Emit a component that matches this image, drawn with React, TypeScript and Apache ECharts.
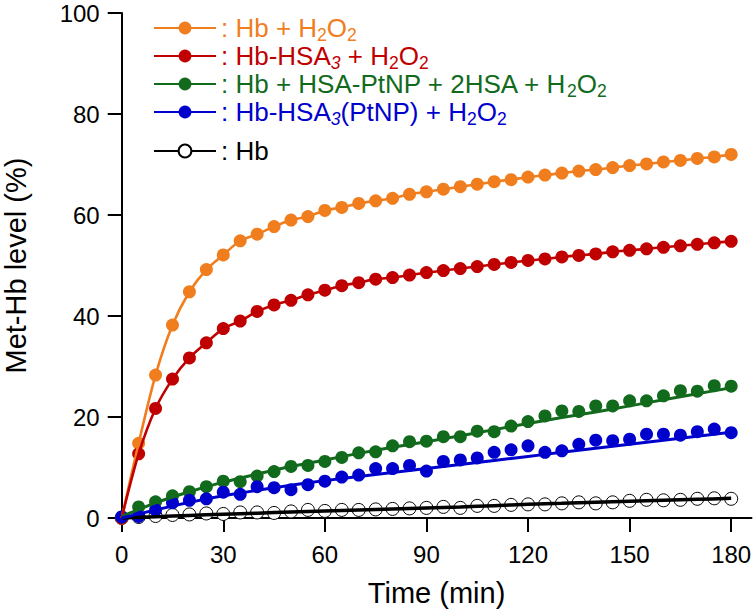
import React, { useEffect, useRef } from "react";
import * as echarts from "echarts";

// ---- data ----
const times = [0, 5, 10, 15, 20, 25, 30, 35, 40, 45, 50, 55, 60, 65, 70, 75, 80, 85, 90, 95, 100, 105, 110, 115, 120, 125, 130, 135, 140, 145, 150, 155, 160, 165, 170, 175, 180];

const hbH2O2 = [0, 14.8, 28.3, 38.2, 44.8, 49.2, 52.1, 54.9, 56.2, 57.7, 59.0, 59.7, 60.9, 61.5, 62.3, 62.8, 63.3, 64.1, 64.6, 65.1, 65.6, 66.1, 66.6, 67.0, 67.5, 67.9, 68.3, 68.7, 69.0, 69.4, 69.8, 70.1, 70.5, 70.8, 71.2, 71.5, 72.0];
const hbHsa3H2O2 = [0, 12.7, 21.7, 27.5, 31.7, 34.7, 37.5, 39.0, 40.9, 42.2, 43.1, 44.2, 45.1, 46.0, 46.6, 47.3, 47.6, 48.1, 48.6, 49.0, 49.4, 49.8, 50.2, 50.6, 51.0, 51.3, 51.7, 52.0, 52.3, 52.7, 53.0, 53.3, 53.6, 53.9, 54.2, 54.5, 54.8];
const hbHsaPtnpH2O2 = [0.2, 2.2, 3.2, 4.4, 5.2, 6.2, 7.3, 7.2, 8.3, 9.2, 10.2, 10.4, 11.2, 12.0, 12.9, 13.1, 14.3, 15.1, 15.2, 16.1, 16.1, 17.2, 17.1, 18.2, 19.1, 20.2, 21.2, 21.1, 22.2, 22.2, 23.2, 23.2, 24.2, 25.2, 25.1, 26.2, 26.1];
const hbHsa3PtnpH2O2 = [0.2, 0.3, 1.6, 3.0, 3.5, 3.8, 5.1, 4.7, 6.2, 6.0, 5.6, 6.6, 7.3, 8.1, 8.5, 9.8, 9.8, 10.4, 9.3, 11.2, 11.5, 11.9, 13.0, 13.5, 14.3, 13.0, 13.3, 14.6, 15.4, 15.3, 15.6, 16.6, 16.6, 16.4, 17.1, 17.6, 16.9];
const hbOnly = [0, 0.2, 0.4, 0.6, 0.7, 0.9, 0.8, 1.1, 1.1, 1.0, 1.3, 1.6, 1.4, 1.6, 1.6, 1.7, 1.8, 1.9, 2.0, 2.2, 2.0, 2.4, 2.4, 2.6, 2.7, 2.7, 2.9, 3.1, 2.9, 3.1, 3.4, 3.6, 3.5, 3.6, 3.8, 3.9, 3.8];

// fitted curves
const fitTimes = [0, 10, 20, 30, 40, 50, 60, 70, 80, 90, 100, 110, 120, 130, 140, 150, 160, 170, 180];
const fitGreen = [0.3, 3.0, 5.2, 7.1, 8.7, 10.2, 11.5, 12.8, 14.0, 15.1, 16.3, 17.5, 18.7, 19.9, 21.0, 22.2, 23.4, 24.6, 25.8];
const fitBlue = [0, 1.6, 3.1, 4.4, 5.5, 6.5, 7.4, 8.2, 9.0, 9.8, 10.6, 11.4, 12.2, 13.0, 13.8, 14.6, 15.4, 16.2, 17.0];
const fitBlack = [0, 0.25, 0.5, 0.75, 0.95, 1.2, 1.4, 1.6, 1.8, 2.0, 2.2, 2.45, 2.7, 2.9, 3.1, 3.3, 3.5, 3.7, 3.9];

const xTicks = [0, 30, 60, 90, 120, 150, 180];
const yTicks = [0, 20, 40, 60, 80, 100];

const seriesNames = ["Hb + H2O2", "Hb-HSA3 + H2O2", "Hb + HSA-PtNP + 2HSA + H2O2", "Hb-HSA3(PtNP) + H2O2", "Hb"];
const legendRich = [
  "{t|: Hb + H}{s|2}{t|O}{s|2}",
  "{t|: Hb-HSA}{si|3}{t| + H}{s|2}{t|O}{s|2}",
  "{t|: Hb + HSA-PtNP + 2HSA + H}{s|2}{t|O}{s|2}",
  "{t|: Hb-HSA}{si|3}{t|(PtNP) + H}{s|2}{t|O}{s|2}",
  "{t|: Hb}",
];
const colors = ["#F07E1E", "#C00000", "#126B1D", "#0000CD", "#000000"];

const FONT = "Liberation Sans, Arial, Helvetica, sans-serif";

const pair = (xs: number[], ys: number[]) => xs.map((x, i) => [x, ys[i]]);

export default function App() {
  const ref = useRef<HTMLDivElement>(null);
  useEffect(() => {
    if (!ref.current) return;
    const chart = echarts.init(ref.current, undefined, { renderer: "svg" });

    const pts = [hbH2O2, hbHsa3H2O2, hbHsaPtnpH2O2, hbHsa3PtnpH2O2, hbOnly];
    const fits: [number[], number[]][] = [
      [times, hbH2O2],
      [times, hbHsa3H2O2],
      [fitTimes, fitGreen],
      [fitTimes, fitBlue],
      [fitTimes, fitBlack],
    ];
    const lineWidths = [2.6, 2.6, 3, 3, 3.5];
    const drawOrder = [4, 0, 1, 2, 3];
    const series: any[] = [];
    drawOrder.forEach((i) => {
      const isHb = i === 4;
      series.push({
        name: seriesNames[i],
        type: "line",
        data: pair(fits[i][0], fits[i][1]),
        smooth: 0.3,
        showSymbol: false,
        symbol: isHb ? "emptyCircle" : "circle",
        lineStyle: { color: colors[i], width: lineWidths[i] },
        itemStyle: { color: colors[i] },
        clip: false,
        silent: true,
      });
      series.push({
        name: seriesNames[i] + " (data)",
        type: "scatter",
        data: pair(times, pts[i]),
        symbol: "circle",
        symbolSize: 13,
        itemStyle: isHb
          ? { color: "#ffffff", borderColor: "#000000", borderWidth: 1, opacity: 1 }
          : { color: colors[i], opacity: 1 },
        clip: false,
        silent: true,
      });
    });

    const richStyles = {
      t: { fontSize: 26, lineHeight: 32, fontFamily: FONT },
      s: { fontSize: 17.5, lineHeight: 16, padding: [14, 0, 0, 0], fontFamily: FONT },
      si: { fontSize: 17.5, lineHeight: 16, fontStyle: "italic", padding: [14, 0, 0, 0], fontFamily: FONT },
    };

    const legendBase = {
      orient: "vertical",
      left: 148,
      itemWidth: 62,
      itemHeight: 16,
      itemGap: -4,
      selectedMode: false,
      formatter: (name: string) => legendRich[seriesNames.indexOf(name)],
      textStyle: { fontFamily: FONT, fontSize: 26, rich: richStyles },
    };

    chart.setOption({
      animation: false,
      backgroundColor: "#ffffff",
      grid: { left: 121.7, right: 4.5, top: 13, bottom: 98, outerBoundsMode: "none", containLabel: false },
      legend: [
        {
          ...legendBase,
          top: 7,
          data: seriesNames.slice(0, 4).map((n, i) => ({ name: n, textStyle: { color: colors[i] } })),
        },
        {
          ...legendBase,
          top: 133,
          data: [{ name: seriesNames[4], textStyle: { color: colors[4] } }],
        },
      ],
      xAxis: {
        type: "value",
        min: 0,
        max: 186,
        name: "Time (min)",
        nameLocation: "middle",
        nameGap: 60,
        nameTextStyle: { fontFamily: FONT, fontSize: 29, color: "#000" },
        splitLine: { show: false },
        axisLine: { onZero: false, lineStyle: { color: "#000", width: 2 } },
        axisTick: { customValues: xTicks, length: 14, inside: false, lineStyle: { color: "#000", width: 2 } },
        axisLabel: { customValues: xTicks, fontFamily: FONT, fontSize: 24, color: "#000", margin: 24 },
      },
      yAxis: {
        type: "value",
        min: 0,
        max: 100,
        interval: 20,
        name: "Met-Hb level (%)",
        nameLocation: "middle",
        nameGap: 91,
        nameRotate: 90,
        nameTextStyle: { fontFamily: FONT, fontSize: 29, color: "#000" },
        splitLine: { show: false },
        axisLine: { show: true, lineStyle: { color: "#000", width: 2 } },
        axisTick: { show: true, customValues: yTicks, length: 14, lineStyle: { color: "#000", width: 2 } },
        axisLabel: { customValues: yTicks, fontFamily: FONT, fontSize: 24, color: "#000", margin: 22 },
      },
      series,
    });
    return () => chart.dispose();
  }, []);
  return <div ref={ref} style={{ position: "fixed", left: 0, top: 0, width: 756, height: 616 }} />;
}
